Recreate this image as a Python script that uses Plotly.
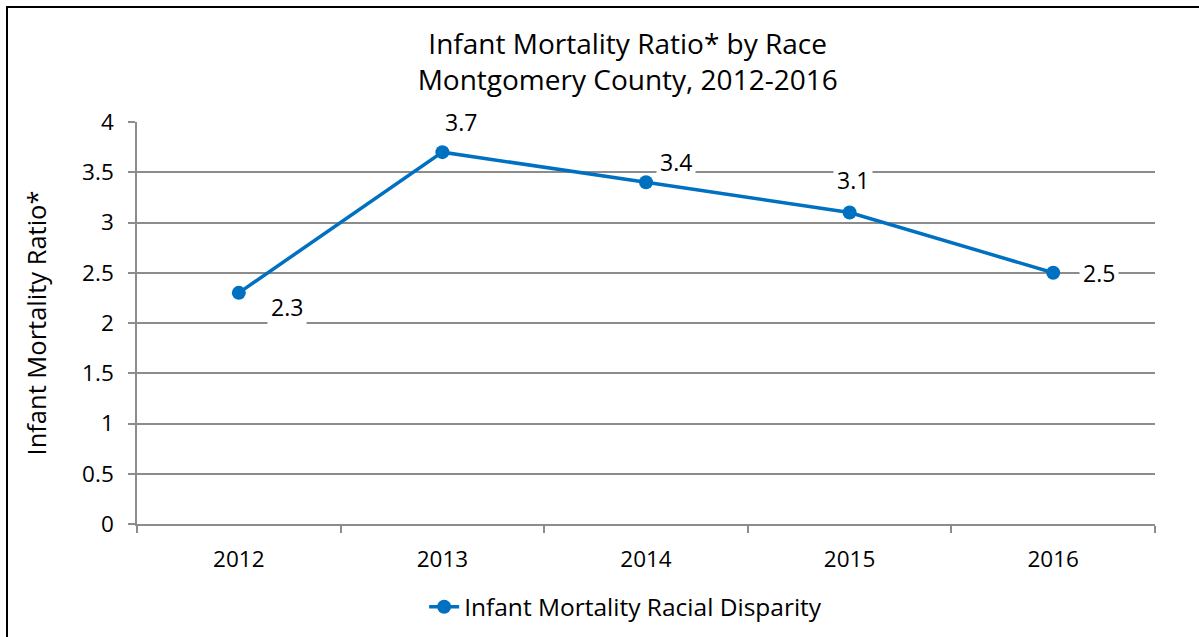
import plotly.graph_objects as go

years = ["2012", "2013", "2014", "2015", "2016"]
ratios = [2.3, 3.7, 3.4, 3.1, 2.5]
label_dx = [48, 19, 30, 3, 46]
label_dy = [-14, 30, 20, 32, 0]
y_ticks = [0, 0.5, 1, 1.5, 2, 2.5, 3, 3.5, 4]

FONT = "Open Sans"
BLUE = "#0070C0"
GRID = "#8C8C8C"

fig = go.Figure()
fig.add_trace(go.Scatter(
    x=years, y=ratios, mode="lines+markers",
    name="Infant Mortality Racial Disparity",
    line=dict(color=BLUE, width=3.5),
    marker=dict(color=BLUE, size=14),
))

for i, (yv, dx, dy) in enumerate(zip(ratios, label_dx, label_dy)):
    fig.add_annotation(
        x=i, y=yv, xref="x", yref="y", text=str(yv), showarrow=False,
        xshift=dx, yshift=dy, bgcolor="white",
        font=dict(family=FONT, size=23, color="black"),
        borderpad=3,
    )

fig.update_layout(
    width=1199, height=637,
    paper_bgcolor="white", plot_bgcolor="white",
    margin=dict(l=137, r=44, t=122, b=113, autoexpand=False),
    title=dict(
        text="Infant Mortality Ratio* by Race<br>Montgomery County, 2012-2016",
        x=0.482, xref="paper", xanchor="center",
        y=0.916, yref="container", yanchor="top",
        font=dict(family=FONT, size=28, color="black"),
    ),
    showlegend=True,
    legend=dict(
        orientation="h", x=0.48, xanchor="center", y=-0.206, yanchor="middle",
        font=dict(family=FONT, size=24.5, color="black"),
    ),
    xaxis=dict(
        type="category", range=[-0.5, 4.5], automargin=False,
        showgrid=False, showline=True, linecolor=GRID, linewidth=2,
        ticks="outside", tickson="boundaries", ticklen=7, tickwidth=2, tickcolor=GRID,
        tickfont=dict(family=FONT, size=22.5, color="black"),
        ticklabelstandoff=14,
        zeroline=False,
    ),
    yaxis=dict(
        range=[0, 4], tickvals=y_ticks, automargin=False,
        showgrid=True, gridcolor=GRID, gridwidth=1.5,
        showline=True, linecolor=GRID, linewidth=1.5,
        ticks="outside", ticklen=7, tickwidth=1.5, tickcolor=GRID,
        tickfont=dict(family=FONT, size=22.5, color="black"),
        ticklabelstandoff=10,
        zeroline=False,
        title=dict(text="Infant Mortality Ratio*", standoff=28,
                   font=dict(family=FONT, size=25.5, color="black")),
    ),
)

fig.add_shape(
    type="rect", xref="paper", yref="paper",
    x0=-0.1277, x1=1.06, y0=-0.3, y1=1.286,
    line=dict(color="black", width=2), fillcolor="rgba(0,0,0,0)", layer="above",
)

fig.write_html("out.html", config={"displayModeBar": False},
               post_script="document.body.style.margin='0';")
